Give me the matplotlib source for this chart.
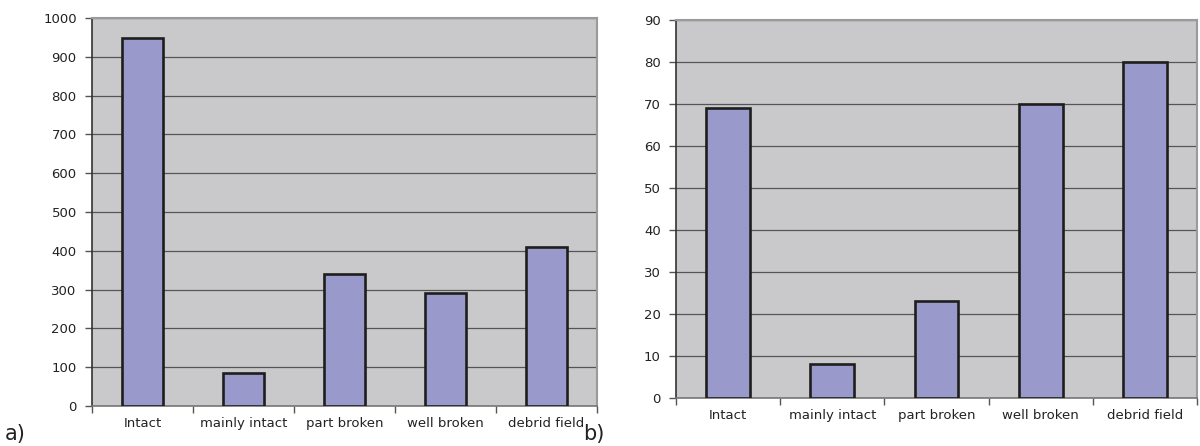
import matplotlib
matplotlib.use("Agg")
import matplotlib.pyplot as plt
import numpy as np

categories = ["Intact", "mainly intact", "part broken", "well broken", "debrid field"]
values_a = [948, 85, 340, 290, 410]
values_b = [69, 8, 23, 70, 80]
yticks_a = list(range(0, 1001, 100))
yticks_b = list(range(0, 91, 10))

W, H = 1200, 446
fig = plt.figure(figsize=(W / 100, H / 100), dpi=100)
plt.rcParams['font.family'] = ['DejaVu Sans']

BG = "#C9C9CB"
BAR = "#9999CC"
GRID = "#555555"


def make_axes(px_left, px_top, px_right, px_bottom):
    return fig.add_axes([px_left / W, (H - px_bottom) / H,
                         (px_right - px_left) / W, (px_bottom - px_top) / H])


def draw(ax, values, yticks, width):
    x = np.arange(len(categories))
    ax.set_facecolor(BG)
    ax.set_axisbelow(True)
    ax.yaxis.grid(True, color=GRID, lw=0.9)
    ax.bar(x, values, width=width, color=BAR, edgecolor="#1e1e1e", lw=1.9, zorder=3)
    ax.set_xlim(-0.5, len(categories) - 0.5)
    ax.set_ylim(yticks[0], yticks[-1])
    ax.set_yticks(yticks)
    ax.set_yticklabels([str(t) for t in yticks], fontsize=9.5, color="#222222")
    ax.set_xticks(np.arange(len(categories) + 1) - 0.5)
    ax.set_xticklabels([])
    ax.set_xticks(x, minor=True)
    ax.set_xticklabels(categories, minor=True, fontsize=9.5, color="#222222")
    ax.tick_params(axis="x", which="minor", length=0, pad=8)
    ax.tick_params(axis="x", which="major", length=5, width=1, color="#555555", direction="out")
    ax.tick_params(axis="y", length=5, width=1, color="#555555", direction="out", pad=6)
    ax.spines["left"].set_color("#333333")
    ax.spines["left"].set_linewidth(1.2)
    ax.spines["bottom"].set_color("#777777")
    ax.spines["bottom"].set_linewidth(1.2)
    ax.spines["top"].set_color("#9a9a9a")
    ax.spines["top"].set_linewidth(1.5)
    ax.spines["right"].set_color("#9a9a9a")
    ax.spines["right"].set_linewidth(1.5)


ax1 = make_axes(92, 18, 597, 406)
draw(ax1, values_a, yticks_a, 0.4)
ax2 = make_axes(676, 20, 1197, 398)
draw(ax2, values_b, yticks_b, 0.42)

fig.text(5 / W, 1 - 434 / H, "a)", fontsize=15, color="#222222", va="center", ha="left")
fig.text(583 / W, 1 - 434 / H, "b)", fontsize=15, color="#222222", va="center", ha="left")

fig.savefig("out.png", dpi=100, facecolor="white")
